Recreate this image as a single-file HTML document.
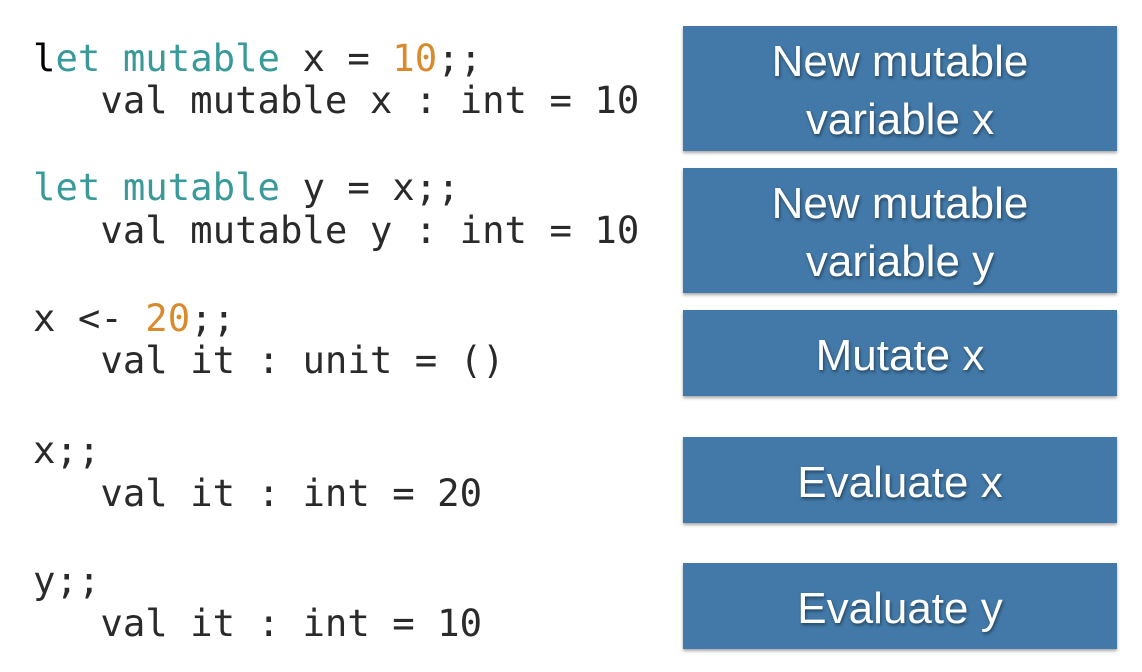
<!DOCTYPE html>
<html><head><style>
body{margin:0;width:1142px;height:672px;background:#fff;position:relative;overflow:hidden}
.c{position:absolute;left:33px;font-family:"DejaVu Sans Mono","Liberation Mono",monospace;font-size:37.3px;color:#2a2a2a;white-space:pre;line-height:1}
.k{color:#3a9a9a}.n{color:#d98a2c}.b{color:#000}
.box{position:absolute;left:683px;width:434px;box-sizing:border-box;padding-top:5px;background:#4279a8;box-shadow:0 2px 3px rgba(0,0,0,.35);display:flex;align-items:center;justify-content:center;text-align:center;color:#fff;font-family:"Liberation Sans",sans-serif;font-size:44px;line-height:58px;text-shadow:1px 2px 3px rgba(0,0,0,.45)}
</style></head><body>
<div class="c" style="top:40px"><span class="b">l</span><span class="k">et mutable</span> x = <span class="n">10</span>;;</div>
<div class="c" style="top:82px">   val mutable x : int = 10</div>
<div class="c" style="top:169px"><span class="k">let mutable</span> y = x;;</div>
<div class="c" style="top:212px">   val mutable y : int = 10</div>
<div class="c" style="top:300px">x &lt;- <span class="n">20</span>;;</div>
<div class="c" style="top:342px">   val it : unit = ()</div>
<div class="c" style="top:432px">x;;</div>
<div class="c" style="top:475px">   val it : int = 20</div>
<div class="c" style="top:562px">y;;</div>
<div class="c" style="top:605px">   val it : int = 10</div>
<div class="box" style="top:26px;height:125px">New mutable<br>variable x</div>
<div class="box" style="top:168px;height:125px">New mutable<br>variable y</div>
<div class="box" style="top:310px;height:86px">Mutate x</div>
<div class="box" style="top:437px;height:86px">Evaluate x</div>
<div class="box" style="top:563px;height:86px">Evaluate y</div>
</body></html>
